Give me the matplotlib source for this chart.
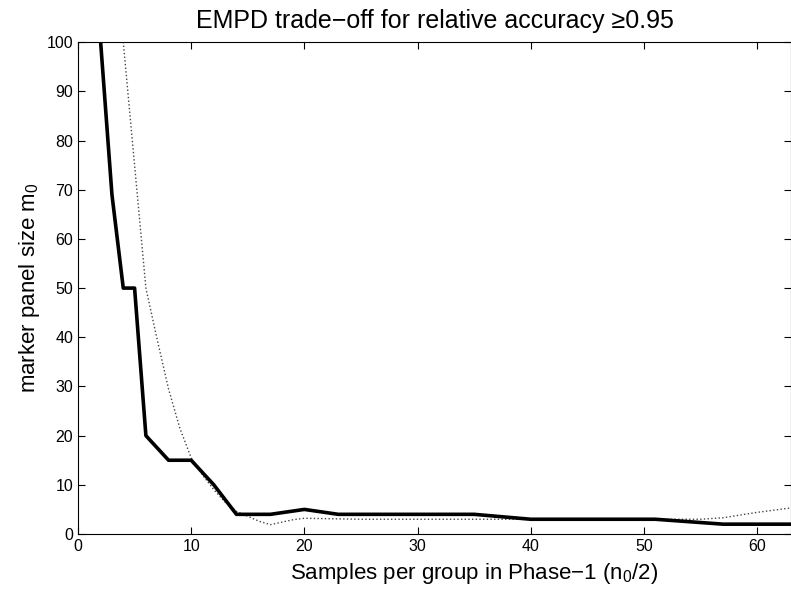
import numpy as np
import matplotlib
matplotlib.use("Agg")
import matplotlib.pyplot as plt

plt.rcParams['font.family'] = ['Liberation Sans', 'DejaVu Sans']
plt.rcParams['mathtext.default'] = 'regular'

# solid curve (EMPD)
solid_x = [2, 3, 4, 5, 6, 8, 10, 12, 14, 17, 20, 23, 35, 40, 51, 57, 63]
solid_y = [100, 69, 50, 50, 20, 15, 15, 10, 4, 4, 5, 4, 4, 3, 3, 2, 2]

# dotted curve
dot_x = [3, 4, 4.4, 4.8, 5.2, 5.6, 6, 7, 8, 9, 10, 11, 12, 13, 14, 15, 16, 17,
         18, 19, 20, 25, 30, 40, 50, 55, 57, 60, 63]
dot_y = [100, 100, 90, 80, 70, 60, 50, 39.5, 29.5, 21.5, 15.5, 12, 9, 6.5, 4.6,
         3.6, 2.6, 1.9, 2.4, 2.9, 3.2, 3, 3, 3, 3, 3, 3.3, 4.4, 5.3]

xticks = [0, 10, 20, 30, 40, 50, 60]
yticks = [0, 10, 20, 30, 40, 50, 60, 70, 80, 90, 100]

fig = plt.figure(figsize=(7.91, 5.94), dpi=100)
ax = fig.add_axes([0.0986, 0.101, 0.9014, 0.828])

ax.plot(dot_x, dot_y, linestyle=':', color='#444444', linewidth=1.0)
ax.plot(solid_x, solid_y, color='black', linewidth=2.6)

ax.set_xlim(0, 63)
ax.set_ylim(0, 100)
ax.set_xticks(xticks)
ax.set_yticks(yticks)
ax.tick_params(direction='in', length=5, width=0.8, top=True, right=True, labelsize=11.5)
for s in ax.spines.values():
    s.set_linewidth(0.8)

ax.set_title('EMPD trade\u2212off for relative accuracy \u22650.95', fontsize=18, pad=10.5)
ax.set_xlabel('Samples per group in Phase\u22121 (n$_0$/2)', fontsize=16, labelpad=5, x=0.555)
ax.set_ylabel('marker panel size m$_0$', fontsize=16, labelpad=3)

fig.savefig('out.png', dpi=100)
